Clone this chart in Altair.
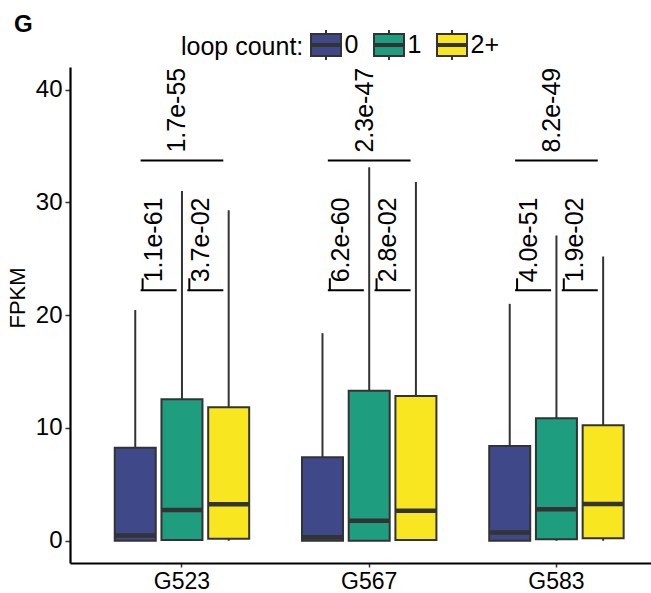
import altair as alt
import pandas as pd

# ---------------- data ----------------
groups = ["G523", "G567", "G583"]
loops = ["0", "1", "2+"]
colors = ["#3F4889", "#1F9E7F", "#F8E621"]

box_group = ["G523", "G523", "G523", "G567", "G567", "G567", "G583", "G583", "G583"]
box_loop = ["0", "1", "2+", "0", "1", "2+", "0", "1", "2+"]
whisker_low = [0.0, 0.0, 0.0, 0.0, 0.0, 0.0, 0.0, 0.0, 0.0]
q1 = [0.0, 0.06, 0.18, 0.0, 0.0, 0.06, 0.0, 0.12, 0.21]
median = [0.45, 2.72, 3.22, 0.3, 1.77, 2.66, 0.73, 2.78, 3.25]
q3 = [8.24, 12.53, 11.83, 7.39, 13.3, 12.83, 8.4, 10.85, 10.23]
whisker_high = [20.45, 31.0, 29.3, 18.4, 33.1, 31.8, 21.0, 27.07, 25.2]

cmp_group = ["G523", "G523", "G523", "G567", "G567", "G567", "G583", "G583", "G583"]
cmp_slot = ["0|1", "1|2+", "1", "0|1", "1|2+", "1", "0|1", "1|2+", "1"]
cmp_kind = ["adj", "adj", "span", "adj", "adj", "span", "adj", "adj", "span"]
cmp_y = [22.2, 22.2, 33.7, 22.2, 22.2, 33.7, 22.2, 22.2, 33.7]
cmp_label = ["1.1e-61", "3.7e-02", "1.7e-55",
             "6.2e-60", "2.8e-02", "2.3e-47",
             "4.0e-51", "1.9e-02", "8.2e-49"]

slot_domain = ["_pad_l", "0", "0|1", "1", "1|2+", "2+", "_pad_r"]

box_df = pd.DataFrame({
    "group": box_group, "loop": box_loop, "slot": box_loop,
    "low": whisker_low, "q1": q1, "med": median, "q3": q3, "high": whisker_high,
})
cmp_df = pd.DataFrame({
    "group": cmp_group, "slot": cmp_slot, "kind": cmp_kind,
    "y": cmp_y, "label": cmp_label,
})

FONT = "Liberation Sans"
DARK = "#333333"

xscale = alt.Scale(domain=groups, range=[0, 598.4], paddingOuter=0.098, paddingInner=0)
offscale = alt.Scale(domain=slot_domain, paddingOuter=0.508, paddingInner=0)
yscale = alt.Scale(domain=[-1.98, 42.0], nice=False, zero=False)

xaxis = alt.Axis(labelFontSize=23, labelColor="black", labelFont=FONT, tickSize=4,
                 tickColor=DARK, tickWidth=1.5, domainColor="black", domainWidth=2.2,
                 labelPadding=3, labelAngle=0, grid=False, title=None)
yaxis = alt.Axis(values=[0, 10, 20, 30, 40], tickSize=5, tickColor=DARK, tickWidth=1.5,
                 domainColor="black", domainWidth=2.2, labelFontSize=24, labelColor="black",
                 labelFont=FONT, labelPadding=3, grid=False, title="FPKM",
                 titleFontSize=22, titleFontWeight="normal", titleColor="black",
                 titleFont=FONT, titleAngle=270, titleX=-52.5, titleY=230.5,
                 titleAlign="center", titleBaseline="middle")

X = alt.X("group:N", scale=xscale, axis=xaxis, title=None)
XO = alt.XOffset("slot:N", scale=offscale)

symbol_path = ("M-1,-0.733H1V0.733H-1Z M-1,-0.06H1V0.06H-1Z "
               "M0,-0.733V-1 M0,0.733V1")

whiskers = alt.Chart(box_df).mark_rule(color=DARK, strokeWidth=2).encode(
    x=X, xOffset=XO,
    y=alt.Y("low:Q", scale=yscale, axis=yaxis),
    y2="high:Q",
)

boxes = alt.Chart(box_df).mark_bar(width=41, stroke=DARK, strokeWidth=2).encode(
    x=X, xOffset=XO,
    y=alt.Y("q1:Q", scale=yscale),
    y2="q3:Q",
    fill=alt.Fill("loop:N", scale=alt.Scale(domain=loops, range=colors),
                  legend=alt.Legend(
                      orient="none", legendX=111, legendY=-38, direction="horizontal",
                      title="loop count:", titleOrient="left", titleFontSize=25,
                      titleFontWeight="normal", titleColor="black", titleFont=FONT,
                      titlePadding=6, labelFontSize=25, labelColor="black", labelFont=FONT,
                      symbolType=symbol_path, symbolSize=900, symbolStrokeColor=DARK,
                      symbolStrokeWidth=2, symbolOpacity=1, labelOffset=2.5,
                      columnPadding=11)),
)

medians = alt.Chart(box_df).mark_tick(color=DARK, thickness=4.5, size=41,
                                      orient="horizontal", opacity=1).encode(
    x=X, xOffset=XO, y=alt.Y("med:Q", scale=yscale),
)

adj_br = alt.Chart(cmp_df).transform_filter(alt.datum.kind == "adj").mark_tick(
    color="black", thickness=2, size=36, orient="horizontal", opacity=1).encode(
    x=X, xOffset=XO, y=alt.Y("y:Q", scale=yscale),
)
span_br = alt.Chart(cmp_df).transform_filter(alt.datum.kind == "span").mark_tick(
    color="black", thickness=2, size=82.7, orient="horizontal", opacity=1).encode(
    x=X, xOffset=XO, y=alt.Y("y:Q", scale=yscale),
)

left_bar = alt.Chart(cmp_df).transform_filter(alt.datum.slot == "0|1").mark_rule(
    color="black", strokeWidth=2, y2Offset=-12).encode(
    x=alt.X("group:N", scale=xscale, axis=xaxis, bandPosition=0.2898),
    y=alt.Y("y:Q", scale=yscale), y2="y:Q",
)
right_bar = alt.Chart(cmp_df).transform_filter(alt.datum.slot == "1|2+").mark_rule(
    color="black", strokeWidth=2, y2Offset=-12).encode(
    x=alt.X("group:N", scale=xscale, axis=xaxis, bandPosition=0.5393),
    y=alt.Y("y:Q", scale=yscale), y2="y:Q",
)

labels = alt.Chart(cmp_df).mark_text(
    angle=270, align="left", baseline="middle", fontSize=25, font=FONT,
    color="black", dx=8, dy=-4.5).encode(
    x=X, xOffset=XO, y=alt.Y("y:Q", scale=yscale), text="label:N",
)

chart = alt.layer(whiskers, boxes, medians, adj_br, span_br, left_bar, right_bar, labels).properties(
    width=581, height=496,
    padding={"left": 70, "top": 67, "right": 0, "bottom": 30},
    autosize=alt.AutoSizeParams(type="none"),
    title=alt.TitleParams("G", anchor="start", frame="group", fontSize=24,
                          fontWeight="bold", color="black", font=FONT, dx=-56,
                          baseline="alphabetic", offset=-27),
).configure(font=FONT, background="white").configure_view(stroke=None)

chart.save("out.html", embed_options={"renderer": "svg", "actions": False})
